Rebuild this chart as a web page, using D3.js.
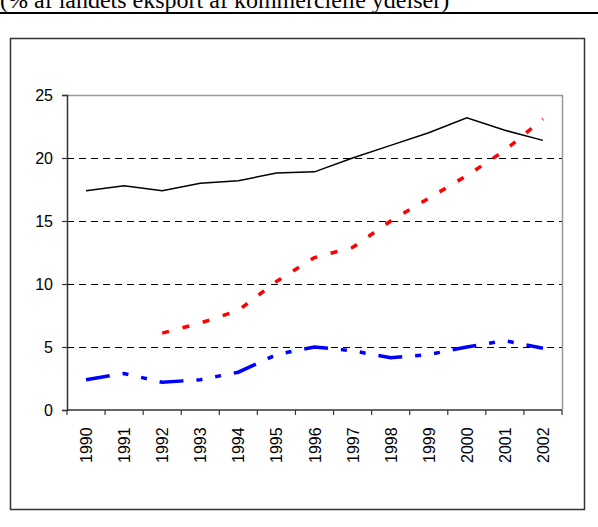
<!DOCTYPE html>
<html><head><meta charset="utf-8">
<script src="https://cdn.jsdelivr.net/npm/d3@7"></script>
<style>body{margin:0;background:#fff}svg{display:block}</style>
</head><body>
<svg id="c" width="598" height="527"></svg>
<script>
const years = ["1990","1991","1992","1993","1994","1995","1996","1997","1998","1999","2000","2001","2002"];
const seriesBlack = [17.4,17.8,17.4,18.0,18.2,18.8,18.9,20.0,21.0,22.0,23.2,22.2,21.4];
const seriesRed   = [null,null,6.1,6.9,7.9,10.2,12.1,12.9,15.0,16.8,18.6,20.6,23.1];
const seriesBlue  = [2.4,2.9,2.2,2.4,3.0,4.4,5.0,4.7,4.15,4.4,5.0,5.5,4.9];
const yTicks = [0,5,10,15,20,25];
const title = "(% af landets eksport af kommercielle ydelser)";

const svg = d3.select("#c");
const L = 67, R = 562, T = 95, B = 410;
const x = d3.scaleBand().domain(years).range([L, R]).padding(0);
const y = d3.scaleLinear().domain([0, 25]).range([B, T]);

// title
svg.append("text").attr("x", 0).attr("y", 8).attr("font-family", "Liberation Serif, Times New Roman, serif")
  .attr("font-size", 24).attr("fill", "#000").text(title);
svg.append("line").attr("x1", 0).attr("x2", 598).attr("y1", 13).attr("y2", 13)
  .attr("stroke", "#000").attr("stroke-width", 2);

// outer box
svg.append("rect").attr("x", 10.5).attr("y", 38.5).attr("width", 574).attr("height", 471)
  .attr("fill", "none").attr("stroke", "#333").attr("stroke-width", 1.5);

// gridlines
svg.append("g").selectAll("line").data(yTicks.filter(t => t > 0 && t < 25)).join("line")
  .attr("x1", L).attr("x2", R).attr("y1", d => Math.round(y(d)) + 0.5).attr("y2", d => Math.round(y(d)) + 0.5)
  .attr("stroke", "#000").attr("stroke-width", 1).attr("stroke-dasharray", "7,5");

// plot border top/right
svg.append("path").attr("d", `M${L},${T + 0.5}H${R + 0.5}V${B}`)
  .attr("fill", "none").attr("stroke", "#999").attr("stroke-width", 1.5);

// y axis
const yAxis = d3.axisLeft(y).tickValues(yTicks).tickSize(5).tickPadding(9);
const gy = svg.append("g").attr("transform", `translate(${L},0)`).call(yAxis);
gy.select(".domain").attr("stroke", "#333").attr("stroke-width", 1.5);
gy.selectAll(".tick line").attr("stroke", "#333").attr("stroke-width", 1.2);
gy.selectAll("text").attr("font-family", "Liberation Sans, Arial, sans-serif").attr("font-size", 16).attr("fill", "#000");

// x axis: ticks at band boundaries
const gx = svg.append("g").attr("transform", `translate(0,${B})`);
gx.append("line").attr("x1", L).attr("x2", R).attr("stroke", "#333").attr("stroke-width", 1.5);
const edges = years.map(d => x(d)).concat([x(years[years.length - 1]) + x.bandwidth()]);
gx.selectAll("line.tk").data(edges).join("line").attr("class", "tk")
  .attr("x1", d => d).attr("x2", d => d).attr("y1", 0).attr("y2", 5)
  .attr("stroke", "#333").attr("stroke-width", 1.2);
gx.selectAll("text").data(years).join("text")
  .attr("transform", d => `translate(${x(d) + x.bandwidth() / 2 + 6},53) rotate(-90)`)
  .attr("font-family", "Liberation Sans, Arial, sans-serif").attr("font-size", 16).attr("fill", "#000")
  .text(d => d);

// lines
const line = d3.line().defined(d => d[1] != null)
  .x(d => x(d[0]) + x.bandwidth() / 2).y(d => y(d[1]));
const mk = arr => years.map((yr, i) => [yr, arr[i]]);

svg.append("path").datum(mk(seriesBlue)).attr("d", line)
  .attr("fill", "none").attr("stroke", "#0000ff").attr("stroke-width", 3.5)
  .attr("stroke-dasharray", "24,13,6,13,6,13");
svg.append("path").datum(mk(seriesRed)).attr("d", line)
  .attr("fill", "none").attr("stroke", "#ff0000").attr("stroke-width", 3.5)
  .attr("stroke-dasharray", "7,14");
svg.append("path").datum(mk(seriesBlack)).attr("d", line)
  .attr("fill", "none").attr("stroke", "#000").attr("stroke-width", 1.5);
</script>
</body></html>
